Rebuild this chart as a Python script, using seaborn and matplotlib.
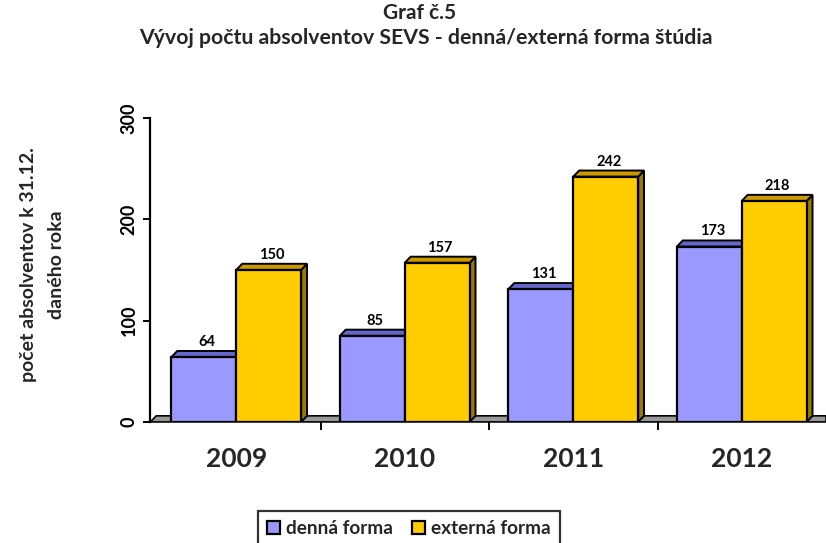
import matplotlib
matplotlib.use("Agg")
import matplotlib.pyplot as plt
import seaborn as sns
import pandas as pd
from matplotlib.patches import Polygon, Patch

years = ["2009", "2010", "2011", "2012"]
denna = [64, 85, 131, 173]
externa = [150, 157, 242, 218]
series_names = ["denná forma", "externá forma"]
title_lines = ["Graf č.5", "Vývoj počtu absolventov SEVS - denná/externá forma štúdia"]
ylabel_lines = ["počet absolventov k 31.12.", "daného roka"]

sns.set_theme(style="white")
plt.rcParams["font.family"] = ["Lato", "DejaVu Sans"]
plt.rcParams["font.weight"] = "bold"

df = pd.DataFrame({
    "rok": years * 2,
    "pocet": denna + externa,
    "forma": [series_names[0]] * 4 + [series_names[1]] * 4,
})

face = {series_names[0]: "#9999FF", series_names[1]: "#FFCC00"}
top_c = {series_names[0]: "#6666CC", series_names[1]: "#CC9900"}
side_c = {series_names[0]: "#4D4D99", series_names[1]: "#997A00"}

fig = plt.figure(figsize=(8.26, 5.43), dpi=100)
ax = fig.add_axes([0.182, 0.223, 0.818, 0.56])

sns.barplot(data=df, x="rok", y="pocet", hue="forma", palette=face,
            width=0.77, edgecolor="black", linewidth=1.6, ax=ax,
            legend=False, zorder=3, saturation=1)

dx, dy = 0.035, 6.0
ax.set_xlim(-0.51, 3.5)
ax.set_ylim(0, 300)

# floor
floor = Polygon([(-0.51, 0), (-0.51 + dx, dy), (3.5, dy), (3.5, 0)], closed=True,
                facecolor="#999999", edgecolor="black", linewidth=1.2, zorder=1,
                clip_on=False)
ax.add_patch(floor)

for cont, name in zip(ax.containers, series_names):
    for p in cont.patches:
        x, w, h = p.get_x(), p.get_width(), p.get_height()
        side = Polygon([(x + w, 0), (x + w + dx, dy), (x + w + dx, h + dy), (x + w, h)],
                       closed=True, facecolor=side_c[name], edgecolor="black",
                       linewidth=1.4, zorder=2)
        top = Polygon([(x, h), (x + dx, h + dy), (x + w + dx, h + dy), (x + w, h)],
                      closed=True, facecolor=top_c[name], edgecolor="black",
                      linewidth=1.4, zorder=2)
        ax.add_patch(side)
        ax.add_patch(top)
        ax.text(x + w / 2 + dx / 2, h + dy + 2, f"{int(h)}", ha="center", va="bottom",
                fontsize=10.5, fontweight="bold", color="black", zorder=5)

for s in ["top", "right", "bottom"]:
    ax.spines[s].set_visible(False)
ax.spines["left"].set_color("black")
ax.spines["left"].set_linewidth(1.6)

ax.set_yticks([0, 100, 200, 300])
ax.set_yticklabels(["0", "100", "200", "300"], rotation=90, va="center",
                   fontsize=13, fontweight="bold")
ax.tick_params(axis="y", direction="out", length=5, width=1.4, colors="black",
               left=True, pad=4)
ax.set_xticks(range(4))
ax.set_xticklabels(years, fontsize=19, fontweight="bold")
ax.set_xticks([0.5, 1.5, 2.5], minor=True)
ax.tick_params(axis="x", which="major", length=0, pad=18)
ax.tick_params(axis="x", which="minor", length=6, width=1.4, color="black", bottom=True)
ax.set_xlabel("")
ax.set_ylabel("")

fig.text(0.035, 0.513, ylabel_lines[0], ha="center", va="center", rotation=90,
         fontsize=14, fontweight="bold")
fig.text(0.069, 0.513, ylabel_lines[1], ha="center", va="center", rotation=90,
         fontsize=14, fontweight="bold")

fig.text(0.508, 0.976, title_lines[0], ha="center", va="center", fontsize=15, fontweight="bold")
fig.text(0.515, 0.930, title_lines[1], ha="center", va="center", fontsize=15.3, fontweight="bold")

handles = [Patch(facecolor=face[n], edgecolor="black", linewidth=1.6) for n in series_names]
leg = fig.legend(handles, series_names, loc="upper center", bbox_to_anchor=(0.495, 0.059),
                 ncol=2, frameon=True, fancybox=False, fontsize=13.7,
                 handlelength=0.7, handleheight=0.7, handletextpad=0.3, columnspacing=1.0,
                 borderpad=0.5, borderaxespad=0)
leg.get_frame().set_edgecolor("black")
leg.get_frame().set_linewidth(1.6)
for t in leg.get_texts():
    t.set_fontweight("bold")

fig.savefig("out.png", dpi=100)
